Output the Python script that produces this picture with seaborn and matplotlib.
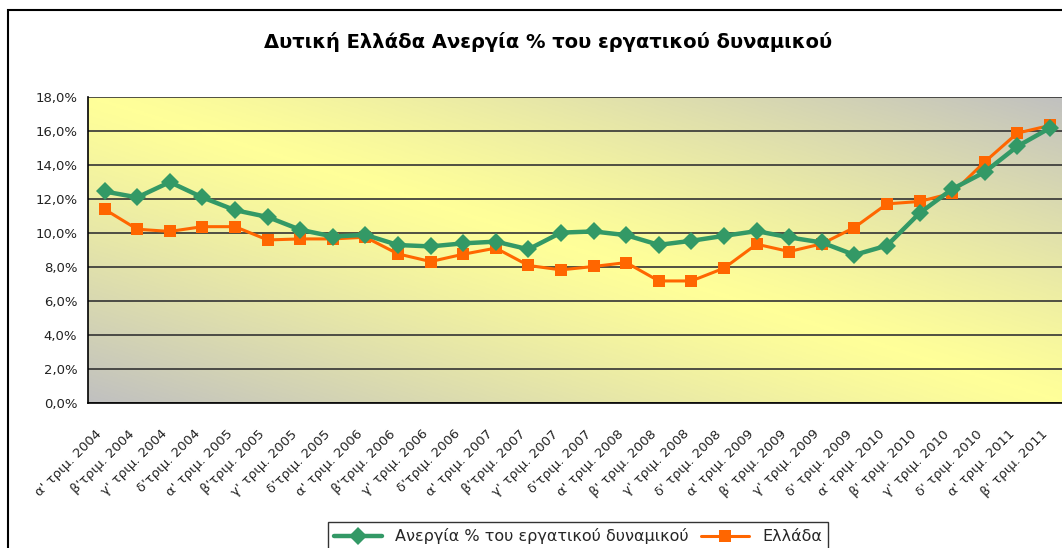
import numpy as np
import pandas as pd
import matplotlib
matplotlib.use("Agg")
import matplotlib.pyplot as plt
from matplotlib.colors import LinearSegmentedColormap
from matplotlib.patches import Rectangle
from matplotlib.ticker import FuncFormatter
import seaborn as sns

# Data
quarters = [
    "α' τριμ. 2004", "β'τριμ. 2004", "γ' τριμ. 2004", "δ'τριμ. 2004",
    "α' τριμ. 2005", "β'τριμ. 2005", "γ' τριμ. 2005", "δ'τριμ. 2005",
    "α' τριμ. 2006", "β'τριμ. 2006", "γ' τριμ. 2006", "δ'τριμ. 2006",
    "α' τριμ. 2007", "β'τριμ. 2007", "γ' τριμ. 2007", "δ'τριμ. 2007",
    "α' τριμ. 2008", "β' τριμ. 2008", "γ' τριμ. 2008", "δ' τριμ. 2008",
    "α' τριμ. 2009", "β' τριμ. 2009", "γ' τριμ. 2009", "δ' τριμ. 2009",
    "α' τριμ. 2010", "β' τριμ. 2010", "γ' τριμ. 2010", "δ' τριμ. 2010",
    "α' τριμ. 2011", "β' τριμ. 2011",
]
west_greece = [12.45, 12.1, 13.0, 12.1, 11.35, 10.95, 10.2, 9.8, 9.9, 9.3,
               9.22, 9.4, 9.5, 9.05, 10.03, 10.1, 9.88, 9.31, 9.55, 9.84,
               10.12, 9.75, 9.45, 8.72, 9.27, 11.18, 12.59, 13.59, 15.1, 16.18]
greece = [11.4, 10.23, 10.1, 10.38, 10.38, 9.6, 9.66, 9.66, 9.76, 8.78,
          8.33, 8.76, 9.12, 8.1, 7.84, 8.04, 8.27, 7.19, 7.19, 7.94,
          9.35, 8.92, 9.37, 10.33, 11.72, 11.86, 12.35, 14.19, 15.88, 16.33]
west_label = "Ανεργία % του εργατικού δυναμικού"
greece_label = "Ελλάδα"
title = "Δυτική Ελλάδα Ανεργία % του εργατικού δυναμικού"

sns.set_style("white")
plt.rcParams['font.family'] = ['DejaVu Sans']

W, H = 1062, 548
fig = plt.figure(figsize=(W / 100, H / 100), dpi=100)
pos = [88.3 / W, 1 - 403.3 / H, 978 / W, 306.3 / H]

# diagonal grey-yellow-grey background like the Excel fill
bg = fig.add_axes(pos, zorder=0)
xx, yy = np.meshgrid(np.linspace(0, 1, 500), np.linspace(0, 1, 250))
grad = np.abs(xx + yy - 1) ** 1.2
cmap = LinearSegmentedColormap.from_list('bg', ['#ffff99', '#c0c0c0'])
bg.imshow(grad, cmap=cmap, extent=(0, 1, 0, 1), origin='lower',
          aspect='auto', vmin=0, vmax=1)
bg.axis('off')

ax = fig.add_axes(pos, zorder=1)
ax.patch.set_alpha(0)

sns.lineplot(x=quarters, y=west_greece, ax=ax, sort=False, color='#339966',
             lw=3.2, marker='D', markersize=9, markeredgewidth=0,
             label=west_label, zorder=4)
sns.lineplot(x=quarters, y=greece, ax=ax, sort=False, color='#ff6600',
             lw=2.2, marker='s', markersize=8.5, markeredgewidth=0,
             label=greece_label, zorder=3)

ax.set_xlim(-0.5, len(quarters) - 0.5)
ax.set_ylim(0, 18)
ax.set_yticks(np.arange(0, 19, 2))
ax.yaxis.set_major_formatter(FuncFormatter(lambda v, p: f"{v:.1f}%".replace('.', ',')))
ax.set_xticks(np.arange(-0.5, len(quarters), 1), minor=True)
ax.set_xticks(range(len(quarters)))
# bottom-anchored rotated labels sit a bit to the left of the tick, as in Excel
ax.set_xticklabels(quarters, rotation=45, ha='right', va='bottom',
                   rotation_mode='anchor', fontsize=9.5, color='#222222')
ax.tick_params(axis='x', which='major', length=0, pad=24)
ax.tick_params(axis='x', which='minor', length=5, direction='out', color='black', width=1)
ax.tick_params(axis='y', length=5, direction='out', color='black', width=1,
               labelsize=9.5, labelcolor='#222222', pad=3)
ax.yaxis.grid(True, color='#333333', lw=1.2, zorder=1)
ax.set_axisbelow(True)
for side in ['top', 'right']:
    ax.spines[side].set_visible(False)
for side in ['left', 'bottom']:
    ax.spines[side].set_color('black')
    ax.spines[side].set_linewidth(1.2)
ax.set_xlabel('')
ax.set_ylabel('')

handles, labels = ax.get_legend_handles_labels()
ax.get_legend().remove()
leg = fig.legend(handles, labels, loc='upper center',
                 bbox_to_anchor=(578 / W, 1 - 514 / H), ncol=2, fontsize=11.5,
                 frameon=True, fancybox=False, edgecolor='black',
                 handlelength=3, columnspacing=0.8, borderpad=0.4)
leg.get_frame().set_linewidth(1.0)

fig.text(548 / W, 1 - 42 / H, title, ha='center', va='center',
         fontsize=14, weight='bold', color='black')

# chart frame, runs off the right and bottom edge like the screenshot
fig.patches.append(Rectangle((8 / W, -0.1), 1.2, 1.1 - 10 / H, fill=False,
                             lw=1.5, ec='black', transform=fig.transFigure))

fig.savefig('out.png', dpi=100)
